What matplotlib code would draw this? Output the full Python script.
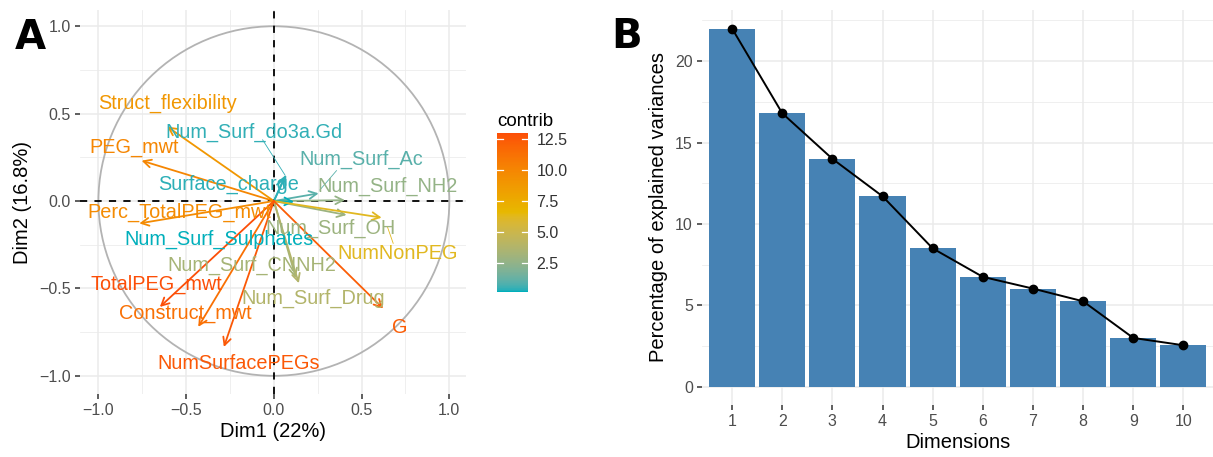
import numpy as np
import matplotlib
matplotlib.use("Agg")
import matplotlib.pyplot as plt
from matplotlib.colors import ListedColormap, Normalize, to_rgb
from matplotlib.patches import Circle
import matplotlib.transforms as mtransforms

plt.rcParams['font.family'] = ['Liberation Sans', 'DejaVu Sans']

# ---------------- data: panel A (PCA variable map) ----------------
var_names = ["Struct_flexibility", "Num_Surf_do3a.Gd", "PEG_mwt", "Num_Surf_Ac",
             "Surface_charge", "Num_Surf_NH2", "Perc_TotalPEG_mwt", "Num_Surf_OH",
             "Num_Surf_Sulphates", "NumNonPEG", "Num_Surf_CNNH2", "TotalPEG_mwt",
             "Num_Surf_Drug", "Construct_mwt", "G", "NumSurfacePEGs"]
dim1 = [-0.608, 0.070, -0.754, 0.255, 0.060, 0.405, -0.767, 0.414,
        0.115, 0.614, 0.125, -0.650, 0.142, -0.431, 0.623, -0.285]
dim2 = [0.426, 0.150, 0.231, 0.044, 0.135, 0.005, -0.128, -0.080,
        -0.004, -0.095, -0.440, -0.606, -0.470, -0.720, -0.615, -0.835]
contrib = [8.9, 0.45, 10.0, 1.0, 0.40, 2.6, 9.7, 2.9,
           0.15, 6.2, 3.3, 13.0, 3.8, 11.3, 12.3, 12.5]
pct_dim1 = 22
pct_dim2 = 16.8

# ---------------- data: panel B (scree plot) ----------------
dimensions = [1, 2, 3, 4, 5, 6, 7, 8, 9, 10]
explained = [22.0, 16.8, 14.0, 11.7, 8.5, 6.75, 6.03, 5.25, 3.0, 2.55]

# ---------------- layout (label positions, repelled) ----------------
label_pos = {
    "Struct_flexibility": (-0.604, 0.556),
    "Num_Surf_do3a.Gd": (-0.114, 0.395),
    "PEG_mwt": (-0.798, 0.304),
    "Num_Surf_Ac": (0.496, 0.241),
    "Surface_charge": (-0.259, 0.097),
    "Num_Surf_NH2": (0.646, 0.086),
    "Perc_TotalPEG_mwt": (-0.541, -0.063),
    "Num_Surf_OH": (0.325, -0.155),
    "Num_Surf_Sulphates": (-0.313, -0.218),
    "NumNonPEG": (0.704, -0.298),
    "Num_Surf_CNNH2": (-0.125, -0.367),
    "TotalPEG_mwt": (-0.672, -0.476),
    "Num_Surf_Drug": (0.222, -0.556),
    "Construct_mwt": (-0.507, -0.642),
    "G": (0.718, -0.722),
    "NumSurfacePEGs": (-0.202, -0.928),
}
segments = {
    "Num_Surf_do3a.Gd": ((-0.064, 0.35), (0.063, 0.149)),
    "Num_Surf_Ac": ((0.357, 0.174), (0.262, 0.063)),
    "NumNonPEG": ((0.648, -0.15), (0.68, -0.242)),
}

W, H = 1213, 457
fig = plt.figure(figsize=(W / 100, H / 100), dpi=100)
fig.patch.set_facecolor("white")


# --- Lab-space gradient (as ggplot's gradientn) ---
def srgb_to_lab(rgb):
    rgb = np.asarray(rgb, float)
    lin = np.where(rgb <= 0.04045, rgb / 12.92, ((rgb + 0.055) / 1.055) ** 2.4)
    M = np.array([[0.4124, 0.3576, 0.1805], [0.2126, 0.7152, 0.0722], [0.0193, 0.1192, 0.9505]])
    xyz = lin @ M.T / np.array([0.95047, 1.0, 1.08883])
    f = np.where(xyz > 0.008856, np.cbrt(xyz), 7.787 * xyz + 16 / 116)
    L = 116 * f[..., 1] - 16
    a = 500 * (f[..., 0] - f[..., 1])
    b = 200 * (f[..., 1] - f[..., 2])
    return np.stack([L, a, b], -1)


def lab_to_srgb(lab):
    lab = np.asarray(lab, float)
    fy = (lab[..., 0] + 16) / 116
    fx = fy + lab[..., 1] / 500
    fz = fy - lab[..., 2] / 200
    f = np.stack([fx, fy, fz], -1)
    xyz = np.where(f ** 3 > 0.008856, f ** 3, (f - 16 / 116) / 7.787) * np.array([0.95047, 1.0, 1.08883])
    Minv = np.array([[3.2406, -1.5372, -0.4986], [-0.9689, 1.8758, 0.0415], [0.0557, -0.2040, 1.0570]])
    lin = xyz @ Minv.T
    lin = np.clip(lin, 0, 1)
    rgb = np.where(lin <= 0.0031308, 12.92 * lin, 1.055 * lin ** (1 / 2.4) - 0.055)
    return np.clip(rgb, 0, 1)


stops = [to_rgb(c) for c in ["#00AFBB", "#E7B800", "#FC4E07"]]
labs = srgb_to_lab(stops)
tt = np.linspace(0, 1, 256)
seg_lab = []
for t in tt:
    if t <= 0.5:
        u = t / 0.5
        seg_lab.append(labs[0] * (1 - u) + labs[1] * u)
    else:
        u = (t - 0.5) / 0.5
        seg_lab.append(labs[1] * (1 - u) + labs[2] * u)
cmap = ListedColormap(lab_to_srgb(np.array(seg_lab)))
norm = Normalize(vmin=min(contrib), vmax=max(contrib))

tick_col = "#4D4D4D"
grid_col = "#EBEBEB"


def px_axes(left, right, top, bottom):
    return fig.add_axes([left / W, (H - bottom) / H, (right - left) / W, (bottom - top) / H])


def style_axes(ax):
    for s in ax.spines.values():
        s.set_visible(False)
    ax.tick_params(axis="both", colors="#333333", labelcolor=tick_col, labelsize=11.5,
                   length=3.5, width=1.1, pad=3)
    ax.set_axisbelow(True)


# ================= Panel A =================
axA = px_axes(80, 466, 10, 394)
style_axes(axA)
axA.set_xlim(-1.105, 1.095)
axA.set_ylim(-1.104, 1.093)
for v in [-1.0, -0.5, 0.0, 0.5, 1.0]:
    axA.axvline(v, color=grid_col, lw=1.1, zorder=0)
    axA.axhline(v, color=grid_col, lw=1.1, zorder=0)
for v in [-0.75, -0.25, 0.25, 0.75]:
    axA.axvline(v, color=grid_col, lw=0.55, zorder=0)
    axA.axhline(v, color=grid_col, lw=0.55, zorder=0)

axA.add_patch(Circle((0, 0), 1.0, fill=False, ec="#B3B3B3", lw=1.3, zorder=1))
axA.axhline(0, color="black", lw=1.3, ls=(0, (4, 4)), zorder=2)
axA.axvline(0, color="black", lw=1.3, ls=(0, (4, 4)), zorder=2)

for name, x, y, c in zip(var_names, dim1, dim2, contrib):
    col = cmap(norm(c))
    axA.annotate("", xy=(x, y), xytext=(0, 0),
                 arrowprops=dict(arrowstyle="->,head_length=0.55,head_width=0.28",
                                 color=col, lw=1.3, shrinkA=0, shrinkB=0),
                 zorder=3)
    if name in segments:
        (x0, y0), (x1, y1) = segments[name]
        axA.plot([x0, x1], [y0, y1], color=col, lw=0.6, zorder=3)
    lx, ly = label_pos[name]
    axA.text(lx, ly, name, color=col, fontsize=14.3, ha="center", va="center", zorder=4)

ticksA = [-1.0, -0.5, 0.0, 0.5, 1.0]
axA.set_xticks(ticksA)
axA.set_yticks(ticksA)
lbls = [("%.1f" % t).replace("-", "\u2212") for t in ticksA]
axA.set_xticklabels(lbls)
axA.set_yticklabels(lbls)
axA.set_xlabel("Dim1 (%g%%)" % pct_dim1, fontsize=14.5, color="black", labelpad=3)
axA.set_ylabel("Dim2 (%g%%)" % pct_dim2, fontsize=14.5, color="black", labelpad=5)

# colorbar
cax = px_axes(497, 528, 133, 292)
sm = matplotlib.cm.ScalarMappable(norm=norm, cmap=cmap)
cb = fig.colorbar(sm, cax=cax)
cb.outline.set_visible(False)
cb.set_ticks([2.5, 5.0, 7.5, 10.0, 12.5])
cb.set_ticklabels(["2.5", "5.0", "7.5", "10.0", "12.5"])
cax.tick_params(length=0, labelsize=11.5, labelcolor="#333333", pad=6)
tr = mtransforms.blended_transform_factory(cax.transAxes, cax.transData)
for t in [2.5, 5.0, 7.5, 10.0, 12.5]:
    cax.plot([0, 0.2], [t, t], color="white", lw=0.9, transform=tr)
    cax.plot([0.8, 1.0], [t, t], color="white", lw=0.9, transform=tr)
fig.text(497 / W, (H - 121) / H, "contrib", fontsize=13.5, ha="left", va="center")

# ================= Panel B =================
axB = px_axes(702, 1213.5, 10, 404.7)
style_axes(axB)
axB.set_xlim(0.4, 10.6)
axB.set_ylim(-1.1, 23.14)
for d in dimensions:
    axB.axvline(d, color=grid_col, lw=1.1, zorder=0)
for v in [0, 5, 10, 15, 20]:
    axB.axhline(v, color=grid_col, lw=1.1, zorder=0)
for v in [2.5, 7.5, 12.5, 17.5, 22.5]:
    axB.axhline(v, color=grid_col, lw=0.55, zorder=0)

axB.bar(dimensions, explained, width=0.92, color="#4682B4", zorder=2)
axB.plot(dimensions, explained, color="black", lw=1.4, marker="o", markersize=6, zorder=3)
axB.set_xticks(dimensions)
axB.set_xticklabels([str(d) for d in dimensions])
axB.set_yticks([0, 5, 10, 15, 20])
axB.set_xlabel("Dimensions", fontsize=14.5, color="black", labelpad=3)
axB.set_ylabel("Percentage of explained variances", fontsize=14.5, color="black", labelpad=5)

# panel letters
fig.text(30 / W, (H - 38) / H, "A", fontsize=29, fontweight="bold", ha="center", va="center",
         family=["DejaVu Sans"])
fig.text(627 / W, (H - 37) / H, "B", fontsize=29, fontweight="bold", ha="center", va="center",
         family=["DejaVu Sans"])

fig.savefig("out.png", dpi=100, facecolor="white")
